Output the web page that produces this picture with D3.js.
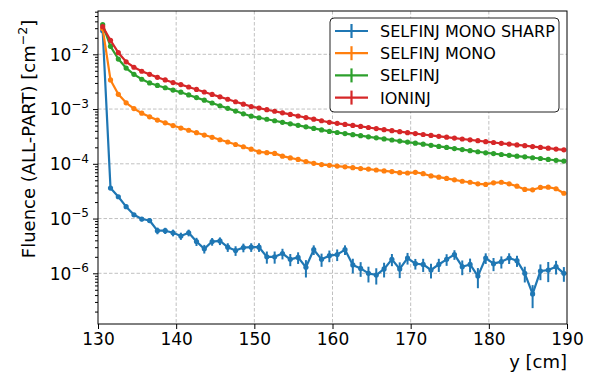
<!DOCTYPE html>
<html>
<head>
<meta charset="utf-8">
<script src="https://cdn.jsdelivr.net/npm/d3@7"></script>
<style>
  body { margin: 0; background: #fff; }
  text { font-family: "DejaVu Sans", sans-serif; fill: #000; }
</style>
</head>
<body>
<div id="chart"></div>
<script>
// bin centres along y [cm]
var positions = d3.range(130.6, 190, 1);

var seriesNames = ["SELFINJ MONO SHARP", "SELFINJ MONO", "SELFINJ", "IONINJ"];
var seriesColors = ["#1f77b4", "#ff7f0e", "#2ca02c", "#d62728"];

var monoSharp = [
  2.7e-2, 3.6e-5, 2.5e-5, 1.65e-5, 1.17e-5, 9.8e-6, 9.2e-6, 6.0e-6, 6.0e-6, 5.5e-6,
  4.8e-6, 5.5e-6, 3.8e-6, 2.8e-6, 3.8e-6, 3.9e-6, 3.0e-6, 2.6e-6, 2.95e-6, 3.0e-6,
  3.0e-6, 2.0e-6, 2.0e-6, 2.3e-6, 1.8e-6, 1.95e-6, 1.29e-6, 2.7e-6, 1.8e-6, 2.1e-6,
  2.2e-6, 2.7e-6, 1.42e-6, 1.23e-6, 1.0e-6, 9.3e-7, 1.2e-6, 1.8e-6, 1.2e-6, 1.9e-6,
  1.5e-6, 1.45e-6, 1.15e-6, 1.45e-6, 1.8e-6, 2.2e-6, 1.32e-6, 1.45e-6, 8.9e-7, 1.9e-6,
  1.5e-6, 1.63e-6, 1.9e-6, 1.7e-6, 1.0e-6, 4.2e-7, 1.1e-6, 1.15e-6, 1.32e-6, 1.0e-6
];
// relative uncertainty of the sharp series (others are smaller than the markers)
var monoSharpErr = [
  0.02, 0.06, 0.07, 0.08, 0.08, 0.09, 0.1, 0.14, 0.13, 0.14,
  0.15, 0.14, 0.17, 0.18, 0.16, 0.16, 0.18, 0.2, 0.18, 0.18,
  0.18, 0.25, 0.25, 0.22, 0.25, 0.24, 0.35, 0.2, 0.27, 0.24,
  0.24, 0.2, 0.3, 0.3, 0.32, 0.33, 0.3, 0.25, 0.32, 0.24,
  0.22, 0.27, 0.3, 0.27, 0.24, 0.2, 0.3, 0.28, 0.4, 0.22,
  0.27, 0.25, 0.22, 0.23, 0.32, 0.45, 0.32, 0.4, 0.28, 0.3
];
var mono = [
  2.95e-2, 3.4e-3, 1.86e-3, 1.3e-3, 1.02e-3, 8.4e-4, 7.2e-4, 6.3e-4, 5.6e-4, 5.0e-4,
  4.5e-4, 4.1e-4, 3.7e-4, 3.35e-4, 3.05e-4, 2.75e-4, 2.5e-4, 2.25e-4, 2.05e-4, 1.85e-4,
  1.65e-4, 1.6e-4, 1.55e-4, 1.38e-4, 1.28e-4, 1.2e-4, 1.1e-4, 1.02e-4, 9.7e-5, 9.4e-5,
  9.1e-5, 8.8e-5, 8.5e-5, 8.2e-5, 8.0e-5, 7.7e-5, 7.4e-5, 7.2e-5, 6.9e-5, 6.8e-5,
  7.0e-5, 6.6e-5, 6.0e-5, 5.7e-5, 5.4e-5, 5.1e-5, 4.8e-5, 4.6e-5, 4.3e-5, 4.2e-5,
  4.5e-5, 4.6e-5, 4.3e-5, 3.9e-5, 3.4e-5, 3.35e-5, 3.7e-5, 3.75e-5, 3.5e-5, 2.9e-5
];
var selfinj = [
  3.5e-2, 1.4e-2, 8.2e-3, 5.6e-3, 4.3e-3, 3.5e-3, 3.0e-3, 2.7e-3, 2.45e-3, 2.22e-3,
  2.03e-3, 1.81e-3, 1.62e-3, 1.45e-3, 1.29e-3, 1.15e-3, 1.03e-3, 9.2e-4, 8.2e-4, 7.4e-4,
  6.94e-4, 6.51e-4, 6.11e-4, 5.73e-4, 5.37e-4, 5.04e-4, 4.73e-4, 4.43e-4, 4.16e-4, 3.9e-4,
  3.73e-4, 3.56e-4, 3.41e-4, 3.26e-4, 3.11e-4, 2.98e-4, 2.85e-4, 2.72e-4, 2.6e-4, 2.49e-4,
  2.38e-4, 2.28e-4, 2.18e-4, 2.08e-4, 1.99e-4, 1.9e-4, 1.82e-4, 1.74e-4, 1.66e-4, 1.59e-4,
  1.54e-4, 1.48e-4, 1.43e-4, 1.38e-4, 1.34e-4, 1.29e-4, 1.25e-4, 1.2e-4, 1.16e-4, 1.12e-4
];
var ioninj = [
  3.2e-2, 1.8e-2, 1.07e-2, 7.3e-3, 5.8e-3, 4.9e-3, 4.3e-3, 3.8e-3, 3.4e-3, 3.05e-3,
  2.8e-3, 2.53e-3, 2.28e-3, 2.05e-3, 1.85e-3, 1.67e-3, 1.51e-3, 1.36e-3, 1.23e-3, 1.11e-3,
  1.04e-3, 9.73e-4, 9.11e-4, 8.53e-4, 7.98e-4, 7.47e-4, 6.99e-4, 6.54e-4, 6.12e-4, 5.73e-4,
  5.48e-4, 5.25e-4, 5.02e-4, 4.81e-4, 4.6e-4, 4.4e-4, 4.21e-4, 4.03e-4, 3.86e-4, 3.7e-4,
  3.56e-4, 3.43e-4, 3.3e-4, 3.18e-4, 3.06e-4, 2.95e-4, 2.84e-4, 2.74e-4, 2.64e-4, 2.54e-4,
  2.45e-4, 2.37e-4, 2.29e-4, 2.21e-4, 2.14e-4, 2.06e-4, 1.99e-4, 1.93e-4, 1.86e-4, 1.8e-4
];

var xTicks = [130, 140, 150, 160, 170, 180, 190];
var yTickExp = [-6, -5, -4, -3, -2];

var margin = { top: 11, right: 28, bottom: 50, left: 98 },
    width = 595 - margin.left - margin.right,
    height = 374 - margin.top - margin.bottom;

var x = d3.scaleLinear().domain([130, 190]).range([0, width]);
var y = d3.scaleLog().domain([1.186e-7, 6.18e-2]).range([height, 0]);

var svg = d3.select("#chart").append("svg")
    .attr("width", 595)
    .attr("height", 374);
var g = svg.append("g")
    .attr("transform", "translate(" + margin.left + "," + margin.top + ")");

g.append("defs").append("clipPath").attr("id", "clip")
  .append("rect").attr("width", width).attr("height", height);

// grid
g.selectAll(".gx").data(xTicks.slice(1, -1)).enter().append("line")
    .attr("x1", function (d) { return x(d); }).attr("x2", function (d) { return x(d); })
    .attr("y1", 0).attr("y2", height)
    .style("stroke", "#b0b0b0").style("stroke-width", 0.8).style("stroke-dasharray", "3.5,2");
g.selectAll(".gy").data(yTickExp).enter().append("line")
    .attr("x1", 0).attr("x2", width)
    .attr("y1", function (d) { return y(Math.pow(10, d)); })
    .attr("y2", function (d) { return y(Math.pow(10, d)); })
    .style("stroke", "#b0b0b0").style("stroke-width", 0.8).style("stroke-dasharray", "3.5,2");

// axes
var xAxis = g.append("g")
    .attr("transform", "translate(0," + height + ")")
    .call(d3.axisBottom(x).tickValues(xTicks).tickSize(5).tickPadding(4));
xAxis.selectAll("text").style("font-size", "17px").style("font-family", '"DejaVu Sans", sans-serif');

var minor = [];
d3.range(-7, -1).forEach(function (e) {
  d3.range(2, 10).forEach(function (m) {
    var v = m * Math.pow(10, e);
    if (v >= y.domain()[0] && v <= y.domain()[1]) minor.push(v);
  });
});
g.append("g").call(d3.axisLeft(y).tickValues(minor).tickSize(3).tickFormat(""));
var yAxis = g.append("g")
    .call(d3.axisLeft(y).tickValues(yTickExp.map(function (e) { return Math.pow(10, e); }))
      .tickSize(5).tickFormat(""));
[xAxis, yAxis].forEach(function (a) {
  a.selectAll("line").style("stroke-width", 1);
});
g.selectAll(".tick line").style("stroke", "#000");
g.selectAll(".domain").remove();

var yLab = g.selectAll(".ylab").data(yTickExp).enter().append("text")
    .attr("x", -9)
    .attr("y", function (d) { return y(Math.pow(10, d)) + 6.3; })
    .attr("text-anchor", "end")
    .style("font-size", "17px");
yLab.append("tspan").text("10");
yLab.append("tspan").attr("dy", -7.5).style("font-size", "12px")
    .text(function (d) { return "\u2212" + Math.abs(d); });

// series
var series = [monoSharp, mono, selfinj, ioninj];
var plot = g.append("g").attr("clip-path", "url(#clip)");
var line = d3.line()
    .x(function (d, i) { return x(positions[i]); })
    .y(function (d) { return y(d); });

series.forEach(function (vals, s) {
  var col = seriesColors[s];
  var sg = plot.append("g");
  if (s === 0) {
    sg.selectAll(".err").data(vals).enter().append("line")
      .attr("x1", function (d, i) { return x(positions[i]); })
      .attr("x2", function (d, i) { return x(positions[i]); })
      .attr("y1", function (d, i) { return y(d * (1 + monoSharpErr[i])); })
      .attr("y2", function (d, i) { return y(d * (1 - monoSharpErr[i])); })
      .style("stroke", col).style("stroke-width", 2);
  }
  sg.append("path").datum(vals)
    .attr("d", line)
    .style("fill", "none").style("stroke", col).style("stroke-width", 2.2)
    .style("stroke-linejoin", "round");
  sg.selectAll(".pt").data(vals).enter().append("circle")
    .attr("cx", function (d, i) { return x(positions[i]); })
    .attr("cy", function (d) { return y(d); })
    .attr("r", 2.6)
    .style("fill", col);
});

// frame
g.append("rect").attr("width", width).attr("height", height)
  .style("fill", "none").style("stroke", "#000").style("stroke-width", 1);

// axis labels
svg.append("text")
    .attr("x", margin.left + width).attr("y", 368)
    .attr("text-anchor", "end")
    .style("font-size", "18px")
    .text("y [cm]");

var yl = svg.append("text")
    .attr("transform", "translate(35,139) rotate(-90)")
    .attr("text-anchor", "middle")
    .style("font-size", "18px");
yl.append("tspan").text("Fluence (ALL-PART) [cm");
yl.append("tspan").attr("dy", -8).style("font-size", "12.5px").text("\u22122");
yl.append("tspan").attr("dy", 8).text("]");

// legend
var lg = svg.append("g").attr("transform", "translate(330,18)");
lg.append("rect").attr("width", 229).attr("height", 94).attr("rx", 4)
  .style("fill", "#fff").style("stroke", "#222").style("stroke-width", 1);
seriesNames.forEach(function (name, i) {
  var yy = 13 + i * 22.2;
  lg.append("line").attr("x1", 5).attr("x2", 38).attr("y1", yy).attr("y2", yy)
    .style("stroke", seriesColors[i]).style("stroke-width", 2.2);
  lg.append("line").attr("x1", 21.5).attr("x2", 21.5).attr("y1", yy - 7).attr("y2", yy + 7)
    .style("stroke", seriesColors[i]).style("stroke-width", 2.2);
  lg.append("text").attr("x", 50).attr("y", yy + 6)
    .style("font-size", "16px").text(name);
});
</script>
</body>
</html>
